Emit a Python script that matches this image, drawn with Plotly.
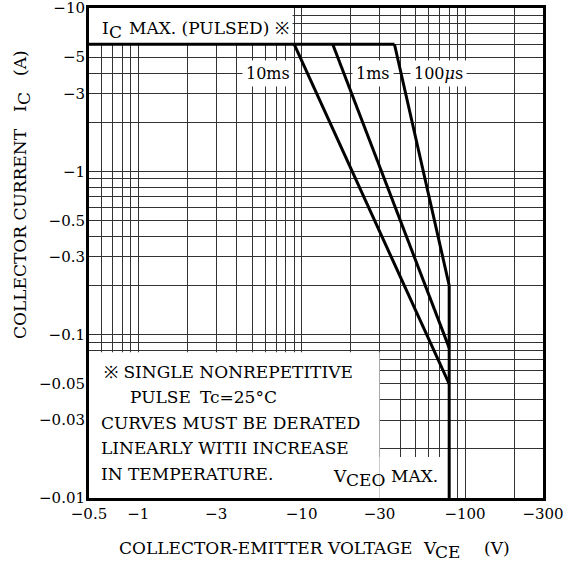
import numpy as np
import plotly.graph_objects as go

# ---- data (PNP device: voltages and currents are negative) ----
pulsed_vce = [-0.5, -37]
pulsed_ic = [-6, -6]

t10ms_vce = [-9, -80]
t10ms_ic = [-6, -0.05]

t1ms_vce = [-15.5, -80]
t1ms_ic = [-6, -0.083]

t100us_vce = [-37, -80]
t100us_ic = [-6, -0.2]

vceo_vce = [-80, -80]
vceo_ic = [-0.2, -0.01]

x_tick_vals = [-0.5, -1, -3, -10, -30, -100, -300]
x_tick_text = ["−0.5", "−1", "−3", "−10", "−30", "−100", "−300"]
y_tick_vals = [-10, -5, -3, -1, -0.5, -0.3, -0.1, -0.05, -0.03, -0.01]
y_tick_text = ["−10", "−5", "−3", "−1", "−0.5", "−0.3", "−0.1", "−0.05", "−0.03", "−0.01"]

FONT = "DejaVu Serif"

def mag(v):
    return [abs(a) for a in v]

# grid positions (1..9 multiples of each decade within range)
def grid_positions(lo, hi):
    out = []
    for d in range(-3, 4):
        for m in range(1, 10):
            v = round(m * 10 ** d, 6)
            if lo - 1e-9 <= v <= hi + 1e-9:
                out.append(v)
    return out

xg = grid_positions(0.5, 300)
yg = grid_positions(0.01, 10)

fig = go.Figure()
line = dict(color="black", width=3)
for xs, ys in [(pulsed_vce, pulsed_ic), (t10ms_vce, t10ms_ic), (t1ms_vce, t1ms_ic),
               (t100us_vce, t100us_ic), (vceo_vce, vceo_ic)]:
    fig.add_trace(go.Scatter(x=mag(xs), y=mag(ys), mode="lines", line=line,
                             showlegend=False, hoverinfo="skip"))

# white label boxes hiding the grid
boxes = [
    (0.5, 8.8, 6.0, 10.0),
    (0.5, 30.0, 0.01, 0.078),
    (30.0, 73.0, 0.01, 0.0178),
]
for x0, x1, y0, y1 in boxes:
    fig.add_shape(type="rect", xref="x", yref="y", x0=x0, x1=x1, y0=y0, y1=y1,
                  fillcolor="white", line=dict(width=0), layer="between")

# plot area in pixels: x 89..543, y 8..498
L, W, T, H = 89, 454, 8, 490
def px(x):
    return (x - L) / W
def py(y):
    return (T + H - y) / H

tf = dict(family=FONT, size=15, color="black")
bf = dict(family=FONT, size=17, color="black")
lf = dict(family=FONT, size=16, color="black")
ann = []
def A(text, x, y, xanchor="left", xref="paper", yref="paper", bg=None, font=bf, **kw):
    d = dict(text=text, x=x, y=y, xref=xref, yref=yref, xanchor=xanchor,
             yanchor="middle", showarrow=False, font=font)
    if bg:
        d.update(bgcolor=bg, borderpad=3)
    d.update(kw)
    ann.append(d)

# I_C MAX. (PULSED) label
A("I", px(100), py(28))
A("C", px(107), py(32))
A("MAX. (PULSED) ※", px(127), py(28))
# curve labels
A("10ms", np.log10(6.2), np.log10(4), xanchor="center", xref="x", yref="y", bg="white", font=lf)
A("1ms", np.log10(27.5), np.log10(4), xanchor="center", xref="x", yref="y", bg="white", font=lf)
A("100<i>μ</i>s", np.log10(69), np.log10(4), xanchor="center", xref="x", yref="y", bg="white", font=lf)
# note block
A("※ SINGLE NONREPETITIVE", px(102), py(372))
A("PULSE", px(128), py(397))
A("Tc=25°C", px(198), py(397))
A("CURVES MUST BE DERATED", px(99), py(423))
A("LINEARLY WITII INCREASE", px(99), py(448))
A("IN TEMPERATURE.", px(99), py(474))
A("V", px(331), py(476))
A("CEO", px(344), py(480))
A("MAX.", px(389), py(476))
# x axis title
A("COLLECTOR-EMITTER VOLTAGE", px(117), py(548))
A("V", px(421), py(548))
A("CE", px(433), py(552))
A("(V)", px(482), py(548))
# y axis title (rotated)
A("COLLECTOR CURRENT", px(20), py(234), xanchor="center", textangle=-90)
A("I", px(20), py(109), xanchor="center", textangle=-90)
A("C", px(24), py(99), xanchor="center", textangle=-90)
A("(A)", px(20), py(63), xanchor="center", textangle=-90)

grid_col = "#333"
fig.update_layout(
    width=569, height=565,
    margin=dict(l=89, r=26, t=8, b=67),
    paper_bgcolor="white", plot_bgcolor="white",
    font=tf,
    annotations=ann,
)
fig.update_xaxes(
    type="log", range=[np.log10(0.5), np.log10(300)], automargin=False,
    tickmode="array", tickvals=mag(x_tick_vals), ticktext=x_tick_text,
    showgrid=True, gridcolor=grid_col, gridwidth=1,
    minor=dict(tickmode="array", tickvals=xg, showgrid=True, gridcolor=grid_col, gridwidth=1, ticks=""),
    showline=True, linecolor="black", linewidth=3, mirror=True,
    ticks="", zeroline=False, tickfont=tf, ticklabeloverflow="allow",
)
fig.update_yaxes(
    type="log", range=[-2, 1], automargin=False,
    tickmode="array", tickvals=mag(y_tick_vals), ticktext=y_tick_text,
    showgrid=True, gridcolor=grid_col, gridwidth=1,
    minor=dict(tickmode="array", tickvals=yg, showgrid=True, gridcolor=grid_col, gridwidth=1, ticks=""),
    showline=True, linecolor="black", linewidth=3, mirror=True,
    ticks="", zeroline=False, tickfont=tf, ticklabelstandoff=-2, ticklabeloverflow="allow",
)

fig.write_html("out.html", config={"displayModeBar": False},
               post_script="document.body.style.margin='0px';")
